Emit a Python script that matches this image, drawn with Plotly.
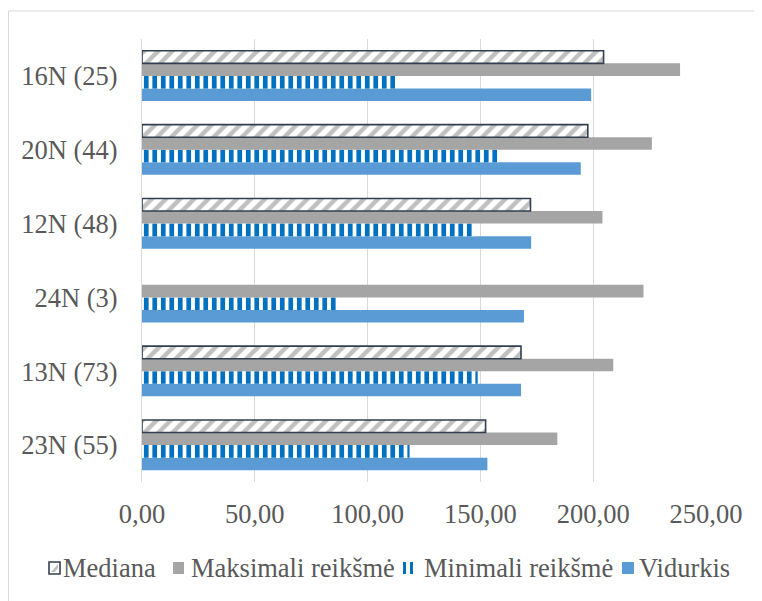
import plotly.graph_objects as go

categories = ["23N (55)", "13N (73)", "24N (3)", "12N (48)", "20N (44)", "16N (25)"]
mediana = [152.3, 168.0, None, 172.2, 197.6, 204.6]
maksimali = [184.1, 208.9, 222.3, 204.1, 226.0, 238.5]
minimali = [118.6, 148.8, 87.2, 147.3, 157.7, 112.2]
vidurkis = [153.1, 168.0, 169.3, 172.5, 194.5, 199.1]
x_ticks = [0, 50, 100, 150, 200, 250]
legend_labels = ["Mediana", "Maksimali reikšmė", "Minimali reikšmė", "Vidurkis"]

FONT = "Liberation Serif"
TXT = "#595959"
FS = 26.5

fig = go.Figure()
fig.add_trace(go.Bar(
    y=categories, x=vidurkis, orientation="h", name=legend_labels[3],
    marker=dict(color="#5b9bd5", line=dict(width=0)),
))
fig.add_trace(go.Bar(
    y=categories, x=minimali, orientation="h", name=legend_labels[2],
    marker=dict(color="white", line=dict(width=0),
                pattern=dict(shape="|", fgcolor="#0070c0", bgcolor="white",
                             size=8.5, solidity=0.55, fillmode="replace")),
))
fig.add_trace(go.Bar(
    y=categories, x=maksimali, orientation="h", name=legend_labels[1],
    marker=dict(color="#a5a5a5", line=dict(width=0)),
))
fig.add_trace(go.Bar(
    y=categories, x=mediana, orientation="h", name=legend_labels[0],
    marker=dict(color="white", line=dict(width=1.6, color="#333f50"),
                pattern=dict(shape="/", fgcolor="#c0c0c0", bgcolor="white",
                             size=10, solidity=0.45, fillmode="replace")),
))

OFF = 8  # page body margin
W, H = 762 - OFF, 601 - OFF
L, R, T, B = 142 - OFF, 56, 39 - OFF, 119
pw, ph = W - L - R, H - T - B
bottom_fig = T + ph


def px_x(p):
    return (p - OFF - L) / pw


def px_y(p):
    return (bottom_fig - (p - OFF)) / ph


fig.update_layout(
    width=W, height=H,
    margin=dict(l=L, r=R, t=T, b=B, autoexpand=False),
    paper_bgcolor="white", plot_bgcolor="white",
    barmode="group", bargap=0.32, bargroupgap=0,
    separators=", ",
    font=dict(family=FONT, size=FS, color=TXT),
    showlegend=False,
    xaxis=dict(range=[0, 250], tickvals=x_ticks, tickformat=".2f",
               showgrid=True, gridcolor="#d9d9d9", gridwidth=1,
               zeroline=False, showline=False, ticks="",
               ticklabelstandoff=13,
               tickfont=dict(family=FONT, size=FS, color=TXT)),
    yaxis=dict(categoryorder="array", categoryarray=categories,
               showgrid=False, zeroline=False, showline=True, linecolor="#d9d9d9",
               ticks="", ticklabelstandoff=18,
               tickfont=dict(family=FONT, size=FS, color=TXT)),
)

# chart border (left and top edges visible)
fig.add_shape(type="rect", xref="paper", yref="paper",
              x0=(0.5 - L) / pw, x1=px_x(770), y0=px_y(610), y1=px_y(11),
              line=dict(color="#d9d9d9", width=1), fillcolor="rgba(0,0,0,0)", layer="below")

# legend (drawn manually to keep it on one compact row)
ly0, ly1 = px_y(574), px_y(562)
ytext = px_y(568)
fig.add_shape(type="rect", xref="paper", yref="paper", x0=px_x(49), x1=px_x(60), y0=ly0, y1=ly1,
              line=dict(color="#333f50", width=1.6), fillcolor="white")
fig.add_shape(type="path", xref="paper", yref="paper",
              path=f"M {px_x(51)} {px_y(572)} L {px_x(58)} {px_y(564)} L {px_x(58)} {px_y(568)} L {px_x(55)} {px_y(572)} Z",
              line=dict(width=0), fillcolor="#c0c0c0")
fig.add_shape(type="rect", xref="paper", yref="paper", x0=px_x(173), x1=px_x(184), y0=ly0, y1=ly1,
              line=dict(width=0), fillcolor="#a5a5a5")
for a, b in [(403, 406), (410, 413)]:
    fig.add_shape(type="rect", xref="paper", yref="paper", x0=px_x(a), x1=px_x(b), y0=ly0, y1=ly1,
                  line=dict(width=0), fillcolor="#0070c0")
fig.add_shape(type="rect", xref="paper", yref="paper", x0=px_x(622), x1=px_x(634), y0=ly0, y1=ly1,
              line=dict(width=0), fillcolor="#5b9bd5")

for label, xs in zip(legend_labels, [61, 189, 422, 637]):
    fig.add_annotation(xref="paper", yref="paper", x=px_x(xs), y=ytext,
                       xanchor="left", yanchor="middle", showarrow=False,
                       text=label, font=dict(family=FONT, size=FS, color=TXT))

fig.write_html("out.html")
